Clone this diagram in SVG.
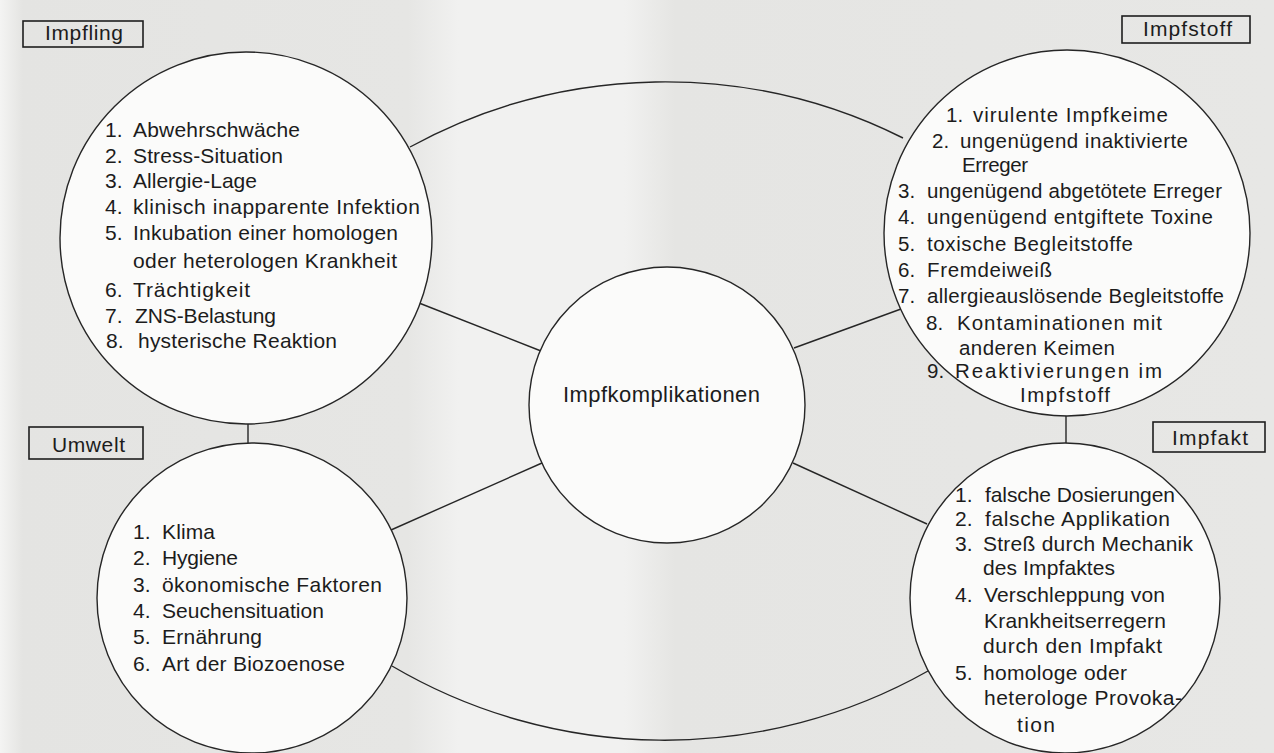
<svg xmlns="http://www.w3.org/2000/svg" width="1274" height="753" viewBox="0 0 1274 753">
<defs>
<linearGradient id="bg" x1="0" y1="0" x2="1" y2="0">
<stop offset="0" stop-color="#f4f4f3"/>
<stop offset="0.018" stop-color="#e4e4e2"/>
<stop offset="0.32" stop-color="#e6e6e4"/>
<stop offset="0.36" stop-color="#f1f1f0"/>
<stop offset="0.49" stop-color="#f1f1f0"/>
<stop offset="0.53" stop-color="#e5e5e3"/>
<stop offset="1" stop-color="#e7e7e5"/>
</linearGradient>
</defs>
<style>
.ln{fill:none;stroke:#262626;stroke-width:1.4}
.cir{fill:#fbfbfa;stroke:#262626;stroke-width:1.4}
.box{fill:none;stroke:#1e1e1e;stroke-width:1.6}
text{font-family:"Liberation Sans",Arial,Helvetica,sans-serif;fill:#1c1c1c}
.t{font-size:21px}
.s{font-size:20.5px}
.h{font-size:21px}
.c{font-size:22px}
</style>
<rect x="0" y="0" width="1274" height="753" fill="url(#bg)"/>

<g id="connectors">
<path class="ln" d="M410,147 A532,532 0 0,1 903,138"/>
<path class="ln" d="M392,666 A537,537 0 0,0 928,671"/>
<line class="ln" x1="419" y1="303" x2="541" y2="351"/>
<line class="ln" x1="794" y1="348" x2="901" y2="309"/>
<line class="ln" x1="542" y1="463" x2="391" y2="530"/>
<line class="ln" x1="793" y1="463" x2="927" y2="524"/>
<line class="ln" x1="248" y1="423" x2="248" y2="444"/>
<line class="ln" x1="1066" y1="415" x2="1066" y2="444"/>
</g>

<g id="node-impfling">
<circle class="cir" cx="246" cy="238" r="186"/>
<rect class="box" x="23" y="21" width="120" height="26"/>
<text class="h" x="45" y="40" textLength="78" lengthAdjust="spacing">Impfling</text>
<text class="t" x="105" y="137">1.</text><text class="t" x="133" y="137" textLength="167" lengthAdjust="spacing">Abwehrschwäche</text>
<text class="t" x="105" y="163">2.</text><text class="t" x="133" y="163" textLength="150" lengthAdjust="spacing">Stress-Situation</text>
<text class="t" x="105" y="188">3.</text><text class="t" x="133" y="188" textLength="124" lengthAdjust="spacing">Allergie-Lage</text>
<text class="t" x="105" y="214">4.</text><text class="t" x="133" y="214" textLength="287" lengthAdjust="spacing">klinisch inapparente Infektion</text>
<text class="t" x="105" y="240">5.</text><text class="t" x="133" y="240" textLength="265" lengthAdjust="spacing">Inkubation einer homologen</text>
<text class="t" x="133" y="268" textLength="264" lengthAdjust="spacing">oder heterologen Krankheit</text>
<text class="t" x="105" y="297">6.</text><text class="t" x="133" y="297" textLength="117" lengthAdjust="spacing">Trächtigkeit</text>
<text class="t" x="105" y="323">7.</text><text class="t" x="135" y="323" textLength="141" lengthAdjust="spacing">ZNS-Belastung</text>
<text class="t" x="106" y="348">8.</text><text class="t" x="138" y="348" textLength="199" lengthAdjust="spacing">hysterische Reaktion</text>
</g>

<g id="node-impfstoff">
<circle class="cir" cx="1067" cy="233" r="183"/>
<rect class="box" x="1122" y="16" width="128" height="27"/>
<text class="h" x="1143" y="36" textLength="89" lengthAdjust="spacing">Impfstoff</text>
<text class="s" x="946" y="122">1.</text><text class="s" x="973" y="122" textLength="195" lengthAdjust="spacing">virulente Impfkeime</text>
<text class="s" x="932" y="148">2.</text><text class="s" x="960" y="148" textLength="228" lengthAdjust="spacing">ungenügend inaktivierte</text>
<text class="s" x="962" y="172" textLength="66" lengthAdjust="spacing">Erreger</text>
<text class="s" x="898" y="198">3.</text><text class="s" x="927" y="198" textLength="295" lengthAdjust="spacing">ungenügend abgetötete Erreger</text>
<text class="s" x="898" y="224">4.</text><text class="s" x="927" y="224" textLength="286" lengthAdjust="spacing">ungenügend entgiftete Toxine</text>
<text class="s" x="898" y="251">5.</text><text class="s" x="927" y="251" textLength="206" lengthAdjust="spacing">toxische Begleitstoffe</text>
<text class="s" x="898" y="277">6.</text><text class="s" x="927" y="277" textLength="125" lengthAdjust="spacing">Fremdeiweiß</text>
<text class="s" x="898" y="303">7.</text><text class="s" x="927" y="303" textLength="297" lengthAdjust="spacing">allergieauslösende Begleitstoffe</text>
<text class="s" x="926" y="330">8.</text><text class="s" x="957" y="330" textLength="205" lengthAdjust="spacing">Kontaminationen mit</text>
<text class="s" x="959" y="355" textLength="156" lengthAdjust="spacing">anderen Keimen</text>
<text class="s" x="927" y="378">9.</text><text class="s" x="955" y="378" textLength="207" lengthAdjust="spacing">Reaktivierungen im</text>
<text class="s" x="1020" y="402" textLength="90" lengthAdjust="spacing">Impfstoff</text>
</g>

<g id="node-impfkomplikationen">
<circle class="cir" cx="667" cy="405" r="138"/>
<text class="c" x="563" y="402" textLength="197" lengthAdjust="spacing">Impfkomplikationen</text>
</g>

<g id="node-umwelt">
<circle class="cir" cx="252" cy="598" r="155"/>
<rect class="box" x="29" y="427" width="114" height="32"/>
<text class="h" x="52" y="452" textLength="73" lengthAdjust="spacing">Umwelt</text>
<text class="t" x="133" y="539">1.</text><text class="t" x="162" y="539" textLength="53" lengthAdjust="spacing">Klima</text>
<text class="t" x="133" y="565">2.</text><text class="t" x="162" y="565" textLength="76" lengthAdjust="spacing">Hygiene</text>
<text class="t" x="133" y="592">3.</text><text class="t" x="162" y="592" textLength="220" lengthAdjust="spacing">ökonomische Faktoren</text>
<text class="t" x="133" y="618">4.</text><text class="t" x="162" y="618" textLength="162" lengthAdjust="spacing">Seuchensituation</text>
<text class="t" x="133" y="644">5.</text><text class="t" x="162" y="644" textLength="100" lengthAdjust="spacing">Ernährung</text>
<text class="t" x="133" y="671">6.</text><text class="t" x="162" y="671" textLength="183" lengthAdjust="spacing">Art der Biozoenose</text>
</g>

<g id="node-impfakt">
<circle class="cir" cx="1065" cy="598" r="155"/>
<rect class="box" x="1153" y="422" width="112" height="30"/>
<text class="h" x="1172" y="445" textLength="76" lengthAdjust="spacing">Impfakt</text>
<text class="t" x="955" y="502">1.</text><text class="t" x="985" y="502" textLength="190" lengthAdjust="spacing">falsche Dosierungen</text>
<text class="t" x="955" y="526">2.</text><text class="t" x="985" y="526" textLength="185" lengthAdjust="spacing">falsche Applikation</text>
<text class="t" x="955" y="551">3.</text><text class="t" x="983" y="551" textLength="210" lengthAdjust="spacing">Streß durch Mechanik</text>
<text class="t" x="983" y="575" textLength="132" lengthAdjust="spacing">des Impfaktes</text>
<text class="t" x="955" y="602">4.</text><text class="t" x="984" y="602" textLength="181" lengthAdjust="spacing">Verschleppung von</text>
<text class="t" x="984" y="628" textLength="182" lengthAdjust="spacing">Krankheitserregern</text>
<text class="t" x="983" y="653" textLength="179" lengthAdjust="spacing">durch den Impfakt</text>
<text class="t" x="955" y="680">5.</text><text class="t" x="983" y="680" textLength="144" lengthAdjust="spacing">homologe oder</text>
<text class="t" x="984" y="705" textLength="198" lengthAdjust="spacing">heterologe Provoka-</text>
<text class="t" x="1017" y="732" textLength="38" lengthAdjust="spacing">tion</text>
</g>
</svg>
